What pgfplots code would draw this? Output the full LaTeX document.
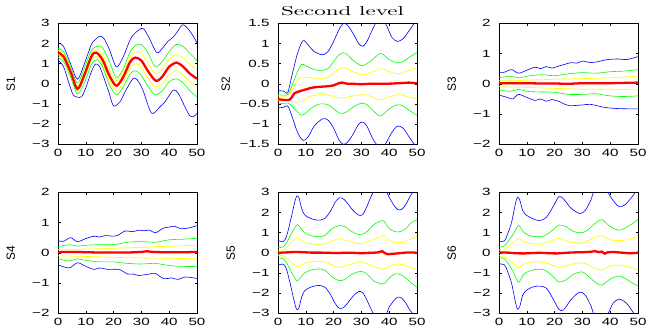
\documentclass[border=0pt]{standalone}
\usepackage{fontspec}
\newfontfamily\tickfont{Liberation Sans}[FakeStretch=1.45]
\newfontfamily\labfont{Liberation Sans}
\newfontfamily\titlefont{lmroman10-regular.otf}[FakeStretch=1.78]
\usepackage{pgfplots}
\pgfplotsset{compat=1.18}
\definecolor{mblue}{RGB}{0,0,255}
\definecolor{mgreen}{RGB}{0,255,0}
\definecolor{myellow}{RGB}{255,255,0}
\definecolor{mred}{RGB}{255,0,0}
\pgfplotsset{
  panel/.style={width=139bp, height=121bp, scale only axis,
    xmin=0, xmax=50, xtick={0,10,20,30,40,50}, xticklabels={0,10,20,30,40,50},
    tick align=inside, major tick length=2.5bp,
    axis line style={line width=0.6bp}, every tick/.style={black, line width=0.5bp},
    tick label style={font=\tickfont\fontsize{10.5}{12}\selectfont},
    xticklabel style={yshift=-1.5bp}, yticklabel style={xshift=-5bp},
    ylabel style={at={(axis description cs:-0.34,0.5)}, anchor=center, font=\labfont\fontsize{12}{14}\selectfont},
    no markers, every axis plot/.append style={smooth}},
  bl/.style={mblue, line width=0.6bp},
  gr/.style={mgreen, line width=0.6bp},
  ye/.style={myellow, line width=0.7bp},
  rd/.style={mred, line width=2.3bp}
}
\begin{document}
\begin{tikzpicture}[x=1bp,y=1bp]
\path[use as bounding box] (0,0) rectangle (654,327);

% ---------- S1 ----------
\begin{axis}[panel, at={(58bp,182.7bp)}, anchor=south west, ymin=-3, ymax=3,
  ytick={-3,-2,-1,0,1,2,3}, yticklabels={−3,−2,−1,0,1,2,3}, ylabel={S1}]
\addplot[bl] coordinates {(0,2.03)(2,1.85)(4.5,1.0)(7,0.23)(9.5,1.0)(12,1.95)(13.5,2.2)(15,2.36)(16.5,2.25)(18.5,1.7)(21,0.84)(23.5,1.35)(26,2.2)(28,2.55)(30.5,2.75)(32.5,2.35)(35.5,1.55)(37.5,1.75)(39.5,2.1)(41.5,2.32)(43,2.6)(45,2.93)(47.5,2.6)(50,2.04)};
\addplot[bl] coordinates {(0,1.17)(2,0.85)(4,0.0)(5.5,-0.56)(7,-0.66)(8.5,-0.64)(10,-0.2)(12,0.6)(13.5,0.98)(15,0.84)(17,0.1)(18.5,-0.5)(20,-1.1)(22.3,-0.89)(24.5,-0.3)(27,0.26)(28.5,0.2)(30.5,-0.3)(33,-1.3)(34.3,-1.47)(36.7,-1.14)(38.5,-0.89)(41.5,-0.31)(43.3,-0.48)(45.5,-1.1)(47.5,-1.6)(49,-1.6)(50,-1.47)};
\addplot[gr] coordinates {(0,1.75)(2,1.6)(4.5,0.85)(7,0.05)(9.5,0.8)(12,1.65)(14,1.85)(16,1.8)(18.5,1.1)(21,0.3)(23.5,0.75)(26,1.6)(28,1.9)(30,1.95)(32.5,1.5)(35,0.85)(37.5,1.1)(40,1.6)(42.5,1.95)(45,1.85)(47.5,1.5)(50,1.15)};
\addplot[gr] coordinates {(0,1.3)(2,1.1)(4.5,0.35)(7,-0.5)(9.5,0.05)(12,0.95)(14,1.2)(16,0.85)(18.5,-0.05)(21,-0.55)(23.5,-0.15)(26,0.5)(28,0.65)(30,0.4)(32.5,-0.15)(35,-0.55)(37.5,-0.35)(40,0.1)(42.5,0.25)(45,0.05)(47.5,-0.35)(50,-0.65)};
\addplot[ye] coordinates {(0,1.65)(2,1.5)(4.5,0.75)(7,-0.1)(9.5,0.6)(12,1.5)(14,1.7)(16,1.45)(18.5,0.7)(21,0.15)(23.5,0.55)(26,1.35)(28,1.6)(30,1.5)(32.5,1.0)(35,0.5)(37.5,0.7)(40,1.2)(42.5,1.45)(45,1.3)(47.5,0.95)(50,0.7)};
\addplot[ye] coordinates {(0,1.45)(2,1.2)(4.5,0.45)(7,-0.35)(9.5,0.3)(12,1.15)(14,1.35)(16,1.0)(18.5,0.15)(21,-0.35)(23.5,0.1)(26,0.8)(28,1.0)(30,0.8)(32.5,0.25)(35,-0.15)(37.5,0.0)(40,0.45)(42.5,0.65)(45,0.45)(47.5,0.1)(50,-0.2)};
\addplot[rd] coordinates {(0,1.55)(2,1.35)(4.5,0.6)(7,-0.25)(9.5,0.45)(12,1.35)(13.7,1.55)(16,1.2)(18.5,0.4)(21,-0.1)(23.5,0.35)(26,1.1)(27.8,1.3)(30,1.15)(32.5,0.6)(35.2,0.15)(37.5,0.35)(40,0.85)(42.7,1.05)(45,0.85)(47.5,0.5)(50,0.25)};
\end{axis}

% ---------- S2 ----------
\begin{axis}[panel, at={(278bp,182.7bp)}, anchor=south west, ymin=-1.5, ymax=1.5,
  ytick={-1.5,-1,-0.5,0,0.5,1,1.5}, yticklabels={−1.5,−1,−0.5,0,0.5,1,1.5},
  ylabel={S2}, ylabel style={at={(axis description cs:-0.375,0.5)}},
  title={Second level}, title style={at={(axis description cs:0.5,1)}, anchor=base, yshift=2bp, xshift=-5bp, font=\titlefont\fontsize{13}{15}\selectfont}]
\addplot[bl] coordinates {(0,-0.17)(2,-0.18)(3.5,-0.22)(5,0.2)(7,0.75)(9,1.07)(11,0.95)(13,0.8)(16,0.72)(18,0.8)(20,1.05)(22,1.35)(23.5,1.5)(25,1.45)(27,1.25)(29,1.0)(30.5,0.93)(32,1.05)(34,1.35)(36,1.6)(37.5,1.62)(39,1.45)(41,1.15)(43,1.05)(45,1.12)(47,1.3)(49,1.5)(50,1.6)};
\addplot[bl] coordinates {(0,-0.6)(2,-0.58)(3.5,-0.55)(5,-0.8)(7,-1.2)(9,-1.4)(11,-1.3)(13,-1.05)(16,-0.87)(18,-0.9)(20,-1.1)(22,-1.4)(23.5,-1.5)(25,-1.45)(27,-1.25)(29,-1.0)(30.5,-0.95)(32,-1.05)(34,-1.35)(36,-1.55)(37.5,-1.6)(39,-1.45)(41,-1.2)(43,-1.05)(45,-1.1)(47,-1.3)(49,-1.5)(50,-1.6)};
\addplot[gr] coordinates {(0,-0.27)(3.5,-0.27)(5,-0.05)(7,0.3)(8.5,0.48)(10,0.45)(12,0.38)(15,0.33)(18,0.38)(20,0.55)(22,0.72)(23.5,0.77)(25,0.72)(27,0.58)(30,0.45)(32,0.5)(34,0.6)(36.5,0.75)(38,0.72)(40,0.6)(43,0.52)(45,0.55)(47,0.65)(50,0.78)};
\addplot[gr] coordinates {(0,-0.5)(3.5,-0.48)(5,-0.55)(7,-0.7)(8.5,-0.78)(10,-0.72)(12,-0.6)(15,-0.5)(18,-0.52)(20,-0.62)(22,-0.72)(23.5,-0.73)(25,-0.68)(27,-0.58)(30,-0.48)(32,-0.52)(34,-0.65)(36.5,-0.8)(38,-0.75)(40,-0.62)(43,-0.52)(45,-0.55)(47,-0.65)(50,-0.78)};
\addplot[ye] coordinates {(0,-0.3)(3.5,-0.3)(5,-0.15)(7,0.08)(8.5,0.17)(10,0.16)(12,0.15)(15,0.12)(18,0.17)(20,0.27)(22,0.37)(23.5,0.4)(25,0.37)(27,0.3)(30,0.22)(32,0.25)(34,0.3)(36.5,0.37)(38,0.37)(40,0.3)(43,0.25)(45,0.27)(47,0.33)(50,0.4)};
\addplot[ye] coordinates {(0,-0.42)(3.5,-0.42)(5,-0.44)(7,-0.45)(8.5,-0.45)(10,-0.38)(12,-0.3)(15,-0.27)(18,-0.28)(20,-0.32)(22,-0.35)(23.5,-0.35)(25,-0.33)(27,-0.3)(30,-0.27)(32,-0.28)(34,-0.33)(36.5,-0.4)(38,-0.38)(40,-0.32)(43,-0.27)(45,-0.28)(47,-0.33)(50,-0.37)};
\addplot[rd] coordinates {(0,-0.38)(2,-0.4)(4,-0.4)(5,-0.33)(6,-0.23)(8,-0.18)(10,-0.14)(12,-0.1)(14,-0.08)(16,-0.07)(18,-0.06)(20,-0.04)(22,0.02)(23,0.03)(25,0.0)(27,0.0)(30,-0.01)(33,0.0)(36,0.0)(39,0.0)(42,0.01)(45,0.02)(47,0.03)(50,0.01)};
\end{axis}

% ---------- S3 ----------
\begin{axis}[panel, at={(499bp,182.7bp)}, anchor=south west, ymin=-2, ymax=2,
  ytick={-2,-1,0,1,2}, yticklabels={−2,−1,0,1,2}, ylabel={S3}]
\addplot[bl] coordinates {(0,0.38)(1.5,0.37)(4.5,0.47)(7,0.35)(10,0.45)(13,0.55)(15,0.5)(17,0.57)(19,0.52)(22,0.6)(26,0.7)(28,0.68)(30,0.75)(33,0.7)(35,0.72)(39,0.8)(43,0.82)(46,0.8)(50,0.9)};
\addplot[bl] coordinates {(0,-0.37)(3,-0.45)(5,-0.5)(7,-0.35)(10,-0.45)(13,-0.55)(15,-0.5)(17,-0.58)(19,-0.52)(22,-0.6)(25,-0.72)(30,-0.7)(33,-0.68)(38,-0.78)(43,-0.82)(50,-0.83)};
\addplot[gr] coordinates {(0,0.2)(4,0.25)(7,0.2)(10,0.25)(15,0.3)(20,0.27)(25,0.33)(30,0.37)(35,0.35)(40,0.4)(45,0.42)(50,0.47)};
\addplot[gr] coordinates {(0,-0.2)(4,-0.25)(7,-0.18)(10,-0.25)(15,-0.27)(20,-0.28)(25,-0.35)(30,-0.35)(35,-0.33)(40,-0.4)(45,-0.42)(50,-0.4)};
\addplot[ye] coordinates {(0,0.1)(5,0.1)(10,0.12)(20,0.15)(30,0.17)(40,0.2)(50,0.25)};
\addplot[ye] coordinates {(0,-0.1)(10,-0.12)(20,-0.15)(30,-0.18)(40,-0.18)(50,-0.2)};
\addplot[rd] coordinates {(0,0.02)(5,0.02)(10,0.02)(15,0.01)(20,0.01)(25,0.0)(30,0.02)(35,0.02)(40,0.02)(45,0.03)(50,0.04)};
\end{axis}

% ---------- S4 ----------
\begin{axis}[panel, at={(58bp,13.7bp)}, anchor=south west, ymin=-2, ymax=2,
  ytick={-2,-1,0,1,2}, yticklabels={−2,−1,0,1,2}, ylabel={S4}]
\addplot[bl] coordinates {(0,0.4)(2,0.38)(4.5,0.5)(7,0.37)(10,0.47)(13,0.55)(15,0.52)(17,0.57)(20,0.55)(22,0.6)(24,0.72)(27,0.7)(29,0.75)(31,0.73)(33,0.75)(35,0.66)(38,0.82)(40,0.85)(42,0.88)(44,0.8)(47,0.82)(50,0.9)};
\addplot[bl] coordinates {(0,-0.4)(4,-0.5)(7,-0.33)(10,-0.45)(13,-0.55)(15,-0.5)(18,-0.55)(22,-0.55)(25,-0.7)(27,-0.7)(29,-0.75)(33,-0.7)(35,-0.68)(38,-0.85)(41,-0.83)(43,-0.88)(46,-0.8)(50,-0.85)};
\addplot[gr] coordinates {(0,0.2)(4,0.27)(7,0.22)(10,0.25)(15,0.27)(20,0.27)(25,0.35)(30,0.37)(35,0.35)(40,0.43)(45,0.45)(50,0.48)};
\addplot[gr] coordinates {(0,-0.2)(4,-0.27)(7,-0.2)(10,-0.25)(15,-0.3)(20,-0.3)(25,-0.35)(30,-0.37)(35,-0.35)(40,-0.42)(45,-0.45)(50,-0.45)};
\addplot[ye] coordinates {(0,0.1)(5,0.1)(10,0.12)(20,0.15)(30,0.18)(40,0.22)(50,0.25)};
\addplot[ye] coordinates {(0,-0.1)(10,-0.12)(20,-0.15)(30,-0.17)(40,-0.18)(50,-0.2)};
\addplot[rd] coordinates {(0,0.02)(5,0.03)(10,0.02)(15,0.01)(20,0.01)(25,0.01)(30,0.03)(32,0.05)(34,0.03)(38,0.02)(42,0.02)(46,0.02)(50,0.03)};
\end{axis}

% ---------- S5 ----------
\begin{axis}[panel, at={(278bp,13.7bp)}, anchor=south west, ymin=-3, ymax=3,
  ytick={-3,-2,-1,0,1,2,3}, yticklabels={−3,−2,−1,0,1,2,3}, ylabel={S5}]
\addplot[bl] coordinates {(0,0.6)(2,0.57)(3,0.8)(4,1.3)(5,1.9)(6,2.5)(6.7,2.8)(7.5,2.75)(8.5,2.2)(9.5,1.9)(11,1.75)(13,1.65)(15,1.62)(17,1.72)(19,2.1)(20.5,2.5)(22,2.72)(23.5,2.68)(25,2.45)(27,2.1)(29,1.87)(30.5,1.9)(32,2.3)(33.5,2.8)(35,3.1)(38.5,3.1)(40,2.75)(41.5,2.4)(43,2.15)(44.5,2.15)(46,2.4)(47.5,2.8)(49,3.1)(50,3.2)};
\addplot[bl] coordinates {(0,-0.6)(2,-0.57)(3,-0.8)(4,-1.3)(5,-1.9)(6,-2.5)(6.7,-2.8)(7.5,-2.75)(8.5,-2.2)(9.5,-1.9)(11,-1.75)(13,-1.65)(15,-1.62)(17,-1.72)(19,-2.1)(20.5,-2.5)(22,-2.75)(23.5,-2.72)(25,-2.5)(27,-2.15)(29,-1.92)(30.5,-1.98)(32,-2.35)(33.5,-2.8)(35,-3.1)(38.5,-3.1)(40,-2.7)(41.5,-2.4)(43,-2.2)(44.5,-2.25)(46,-2.5)(47.5,-2.85)(49,-3.1)(50,-3.2)};
\addplot[gr] coordinates {(0,0.25)(2,0.3)(3.5,0.6)(5,1.0)(6.5,1.35)(7,1.4)(8,1.25)(9.5,1.0)(12,0.85)(15,0.8)(17,0.88)(19.5,1.2)(22,1.35)(24,1.3)(26,1.1)(28,0.95)(30,0.9)(32,1.05)(34.5,1.4)(37.5,1.6)(38.5,1.5)(40,1.2)(42,1.05)(44,1.05)(46,1.2)(48,1.5)(50,1.65)};
\addplot[gr] coordinates {(0,-0.25)(2,-0.3)(3.5,-0.6)(5,-1.0)(6.5,-1.35)(7,-1.4)(8,-1.25)(9.5,-1.0)(12,-0.85)(15,-0.8)(17,-0.88)(19.5,-1.2)(22,-1.38)(24,-1.32)(26,-1.12)(28,-0.98)(30,-0.92)(32,-1.05)(34.5,-1.4)(37.5,-1.55)(38.5,-1.5)(40,-1.25)(42,-1.05)(44,-1.08)(46,-1.25)(48,-1.5)(50,-1.7)};
\addplot[ye] coordinates {(0,0.12)(2,0.15)(3.5,0.3)(5,0.55)(7,0.75)(8,0.65)(10,0.5)(12,0.45)(15,0.42)(18,0.5)(20,0.62)(22,0.7)(25,0.6)(28,0.48)(30,0.45)(33,0.6)(36,0.75)(38,0.85)(39,0.75)(40,0.6)(43,0.5)(45,0.52)(48,0.7)(50,0.82)};
\addplot[ye] coordinates {(0,-0.12)(2,-0.15)(3.5,-0.3)(5,-0.5)(7,-0.7)(8,-0.62)(10,-0.5)(12,-0.45)(15,-0.42)(18,-0.5)(20,-0.65)(22,-0.72)(25,-0.6)(28,-0.5)(30,-0.45)(33,-0.6)(36,-0.75)(38,-0.82)(39,-0.75)(40,-0.65)(43,-0.55)(45,-0.58)(48,-0.75)(50,-0.85)};
\addplot[rd] coordinates {(0,0.0)(3,0.02)(6,0.04)(9,0.03)(12,0.01)(15,0.01)(18,0.0)(21,-0.01)(24,0.0)(27,0.0)(30,-0.02)(33,0.0)(36,0.02)(37.5,0.08)(38.5,-0.02)(39.5,-0.07)(41,-0.05)(43,-0.03)(45,0.0)(47,0.02)(49,0.01)(50,0.0)};
\end{axis}

% ---------- S6 ----------
\begin{axis}[panel, at={(499bp,13.7bp)}, anchor=south west, ymin=-3, ymax=3,
  ytick={-3,-2,-1,0,1,2,3}, yticklabels={−3,−2,−1,0,1,2,3}, ylabel={S6}]
\addplot[bl] coordinates {(0,0.55)(2,0.6)(3,0.9)(4.5,1.5)(6,2.5)(6.7,2.75)(7.5,2.6)(8.5,2.1)(9.5,1.9)(12,1.7)(14.5,1.6)(17,1.75)(19.5,2.3)(21.5,2.78)(23,2.7)(24.5,2.45)(26,2.2)(29,1.95)(31,2.1)(33,2.6)(34.5,3.1)(38.5,3.1)(40,2.8)(41,2.6)(43,2.3)(45,2.35)(46.5,2.55)(48,2.8)(49.5,3.1)(50,3.2)};
\addplot[bl] coordinates {(0,-0.55)(2,-0.6)(3,-0.9)(4.5,-1.5)(6,-2.5)(6.7,-2.8)(7.5,-2.65)(8.5,-2.1)(9.5,-1.9)(12,-1.7)(14.5,-1.65)(17,-1.75)(19.5,-2.3)(21.5,-2.8)(23,-2.85)(24.5,-2.6)(26,-2.3)(29,-1.95)(31,-2.1)(33,-2.6)(34.5,-3.1)(38.5,-3.1)(40,-2.8)(41,-2.5)(43,-2.3)(45,-2.4)(46.5,-2.6)(48,-2.9)(49,-3.1)(50,-3.2)};
\addplot[gr] coordinates {(0,0.3)(2,0.35)(5,0.9)(7,1.35)(9,1.0)(12,0.82)(15,0.8)(17,0.9)(20,1.2)(21.5,1.38)(24,1.3)(27,1.05)(30,1.0)(32,1.15)(35,1.5)(37,1.65)(40,1.3)(43,1.12)(45,1.2)(48,1.45)(50,1.65)};
\addplot[gr] coordinates {(0,-0.25)(2,-0.3)(5,-0.9)(7,-1.45)(9,-1.05)(12,-0.85)(15,-0.82)(17,-0.9)(20,-1.25)(21.5,-1.45)(24,-1.35)(27,-1.05)(30,-0.95)(32,-1.15)(35,-1.5)(37,-1.6)(40,-1.3)(43,-1.15)(45,-1.25)(48,-1.5)(50,-1.65)};
\addplot[ye] coordinates {(0,0.15)(2,0.15)(5,0.5)(7,0.7)(9,0.55)(12,0.45)(15,0.42)(17,0.5)(20,0.65)(21.5,0.72)(24,0.6)(27,0.5)(30,0.5)(32,0.6)(35,0.78)(37,0.85)(40,0.65)(43,0.6)(45,0.62)(48,0.72)(50,0.85)};
\addplot[ye] coordinates {(0,-0.15)(2,-0.2)(5,-0.5)(7,-0.75)(9,-0.55)(12,-0.45)(15,-0.45)(17,-0.5)(20,-0.65)(21.5,-0.72)(24,-0.65)(27,-0.55)(30,-0.5)(32,-0.6)(35,-0.78)(37,-0.85)(40,-0.65)(43,-0.6)(45,-0.65)(48,-0.75)(50,-0.85)};
\addplot[rd] coordinates {(0,0.02)(3,0.01)(6,-0.02)(9,-0.03)(12,-0.01)(15,0.0)(18,-0.02)(21,-0.03)(24,0.0)(27,0.02)(30,0.03)(33,0.05)(34.5,0.08)(36,0.03)(37,0.06)(38,-0.04)(39,0.02)(41,0.04)(43,0.02)(45,0.0)(47,-0.02)(50,0.0)};
\end{axis}
\end{tikzpicture}
\end{document}
